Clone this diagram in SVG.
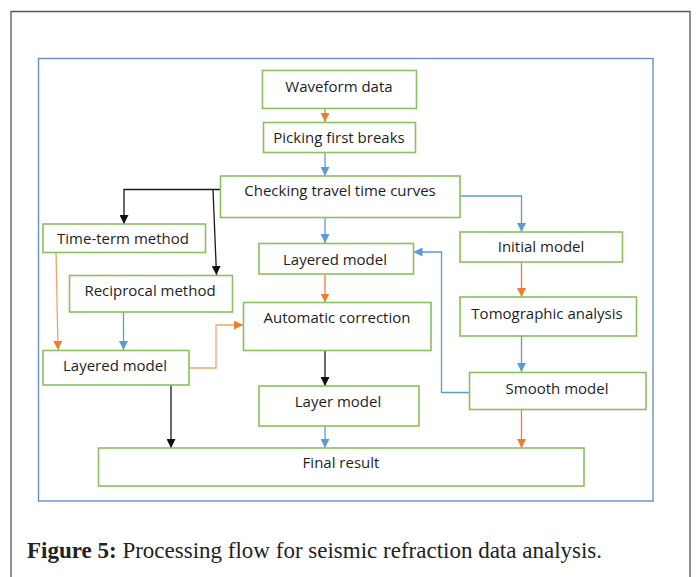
<svg xmlns="http://www.w3.org/2000/svg" width="696" height="577" viewBox="0 0 696 577">
  <style>
    .box rect { fill: #ffffff; stroke: #8dbf5e; stroke-width: 1.6; }
    .box text { font-family: "Open Sans", "Noto Sans", sans-serif; font-size: 15px; fill: #1e1e1e; text-anchor: middle; }
    .c { fill: none; stroke-width: 1.3; }
    .blue { stroke: #5b9bd5; }
    .orange { stroke: #ed7d31; }
    .lorange { stroke: #f4a46a; }
    .black { stroke: #1a1a1a; }
    .cap { font-family: "Liberation Serif", serif; font-size: 23px; fill: #222; }
  </style>
  <defs>
    <marker id="ab" viewBox="0 0 10 10" refX="10" refY="5" markerWidth="9" markerHeight="9" markerUnits="userSpaceOnUse" orient="auto"><path d="M0,0 L10,5 L0,10 z" fill="#5b9bd5"/></marker>
    <marker id="ao" viewBox="0 0 10 10" refX="10" refY="5" markerWidth="9" markerHeight="9" markerUnits="userSpaceOnUse" orient="auto"><path d="M0,0 L10,5 L0,10 z" fill="#ed7d31"/></marker>
    <marker id="ak" viewBox="0 0 10 10" refX="10" refY="5" markerWidth="9" markerHeight="9" markerUnits="userSpaceOnUse" orient="auto"><path d="M0,0 L10,5 L0,10 z" fill="#111"/></marker>
  </defs>

  <rect width="696" height="577" fill="#ffffff"/>
  <!-- outer figure frame -->
  <path d="M11,580 V11.5 H690 V580" fill="none" stroke="#555" stroke-width="1.3"/>
  <!-- diagram frame -->
  <rect x="38.5" y="58.5" width="614.5" height="442.5" fill="none" stroke="#6b8fc4" stroke-width="1.4"/>

  <g id="connectors">
    <path class="c orange" d="M325,108 V122" marker-end="url(#ao)"/>
    <path class="c blue" d="M325,152 V176" marker-end="url(#ab)"/>
    <path class="c black" d="M221,189.5 H124 V224" marker-end="url(#ak)"/>
    <path class="c black" d="M213,189.5 L216.5,275" marker-end="url(#ak)"/>
    <path class="c blue" d="M460,196 H521.5 V232" marker-end="url(#ab)"/>
    <path class="c blue" d="M325,218 V243" marker-end="url(#ab)"/>
    <path class="c lorange" d="M56,252 L58,350" marker-end="url(#ao)"/>
    <path class="c blue" d="M123.5,312 V350" marker-end="url(#ab)"/>
    <path class="c lorange" d="M189,368 H216 V325 H243" marker-end="url(#ao)"/>
    <path class="c orange" d="M325,274 V302.5" marker-end="url(#ao)"/>
    <path class="c orange" d="M521.5,262 V297" marker-end="url(#ao)"/>
    <path class="c blue" d="M521.5,336 V372" marker-end="url(#ab)"/>
    <path class="c blue" d="M469,392.5 H441.5 V252 H413.5" marker-end="url(#ab)"/>
    <path class="c black" d="M325,350.5 V386" marker-end="url(#ak)"/>
    <path class="c black" d="M171,385 V448" marker-end="url(#ak)"/>
    <path class="c blue" d="M325,426 V448" marker-end="url(#ab)"/>
    <path class="c orange" d="M521.5,409 V448" marker-end="url(#ao)"/>
  </g>

  <g id="waveform" class="box"><rect x="262.5" y="70.5" width="154" height="38"/><text x="339" y="92">Waveform data</text></g>
  <g id="picking" class="box"><rect x="263.5" y="122.5" width="152" height="30"/><text x="339" y="143">Picking first breaks</text></g>
  <g id="checking" class="box"><rect x="220.5" y="176" width="239.5" height="41.5"/><text x="340" y="196">Checking travel time curves</text></g>
  <g id="timeterm" class="box"><rect x="43" y="224" width="162.5" height="28.5"/><text x="123" y="244">Time-term method</text></g>
  <g id="initial" class="box"><rect x="460" y="232" width="162.5" height="30"/><text x="541" y="252">Initial model</text></g>
  <g id="layered-center" class="box"><rect x="259" y="243.5" width="154.5" height="30.5"/><text x="335" y="265">Layered model</text></g>
  <g id="reciprocal" class="box"><rect x="69.5" y="275.5" width="163" height="36.5"/><text x="150" y="296">Reciprocal method</text></g>
  <g id="tomographic" class="box"><rect x="460" y="297" width="176.5" height="39"/><text x="547" y="319">Tomographic analysis</text></g>
  <g id="automatic" class="box"><rect x="243.5" y="302.5" width="187.5" height="48"/><text x="337" y="323">Automatic correction</text></g>
  <g id="layered-left" class="box"><rect x="43" y="350.5" width="146" height="34.5"/><text x="115" y="371">Layered model</text></g>
  <g id="smooth" class="box"><rect x="469.5" y="372.5" width="176.5" height="37"/><text x="557" y="394">Smooth model</text></g>
  <g id="layer" class="box"><rect x="259" y="386" width="160" height="40"/><text x="338" y="407">Layer model</text></g>
  <g id="final" class="box"><rect x="98.5" y="448" width="485.5" height="38"/><text x="341" y="468">Final result</text></g>

  <text class="cap" x="27" y="558"><tspan font-weight="bold">Figure 5:</tspan> Processing flow for seismic refraction data analysis.</text>
</svg>
